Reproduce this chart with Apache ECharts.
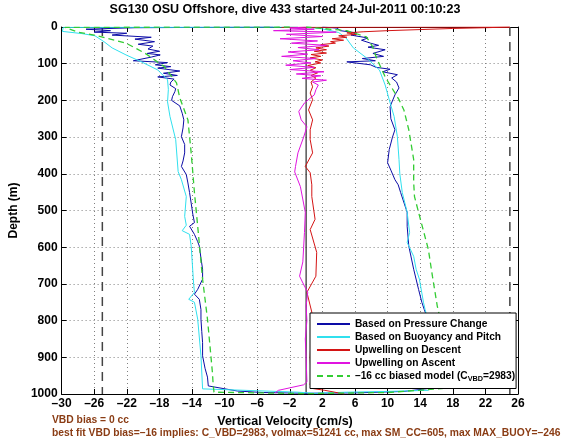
<!DOCTYPE html>
<html><head><meta charset="utf-8">
<script src="https://cdn.jsdelivr.net/npm/echarts@6/dist/echarts.min.js"></script>
<style>html,body{margin:0;padding:0;background:#fff}#c{width:570px;height:440px}</style>
</head><body><div id="c"></div>
<script>
// ---- text ----
const titleText = 'SG130 OSU Offshore, dive 433 started 24-Jul-2011 00:10:23';
const xName = 'Vertical Velocity (cm/s)';
const yName = 'Depth (m)';
const note1 = 'VBD bias = 0 cc';
const note2 = 'best fit VBD bias=\u201316 implies: C_VBD=2983, volmax=51241 cc, max SM_CC=605, max MAX_BUOY=\u2013246';
const seriesNames = ['Based on Pressure Change', 'Based on Buoyancy and Pitch', 'Upwelling on Descent', 'Upwelling on Ascent', '\u201316 cc biased model (C_VBD=2983)'];

// ---- axes ----
const xMin = -30, xMax = 26, xStep = 4;
const depthMin = 0, depthMax = 1000, depthStep = 100;

// ---- reference lines (velocity values) ----
const limitVelocities = [-25, 25];
const zeroVelocity = [0];

// ---- data: [vertical velocity cm/s, depth m] ----
const pressureChange = [
 [-4,0],[-21,2],[-27,6],[-24,10],[-26,14],[-22,17],[-23.8,22],[-19,28],[-21,33],[-18.6,40],[-20.6,47],[-18.8,52],[-19.4,60],[-18,66],[-19.5,72],[-17.9,76],[-19,82],[-21.2,92],[-17,97],[-18.5,103],[-16.6,108],[-18.2,112],[-15.5,120],[-17.5,126],[-15.8,132],[-18.2,136],[-16.2,142],[-16.6,150],[-16.7,158],[-16,168],[-16.1,176],[-16.4,190],[-16.5,200],[-15.5,215],[-15.2,235],[-15,253],[-15.1,275],[-15.3,299],[-14.9,320],[-14.9,343],[-15.1,365],[-15.3,380],[-14.7,402],[-14.5,425],[-14.3,451],[-14.1,480],[-13.9,510],[-13.7,533],[-14.3,543],[-13.7,565],[-13.3,585],[-13.1,597],[-12.9,630],[-12.7,660],[-12.7,687],[-13.3,715],[-13.7,728],[-13.1,742],[-12.9,770],[-12.9,796],[-12.8,830],[-12.7,860],[-12.7,896],[-12.4,930],[-12.1,954],[-12,978],[-8.4,992],[-5.2,996],[0,998],[6,997],[12,993],[15,985],[16,950],[15.8,900],[15.5,850],[15,800],[14.5,770],[14.2,750],[13.8,715],[13.2,660],[12.6,597],[12.4,543],[12.4,505],[11.6,451],[11.3,430],[10.9,416],[10.4,390],[10,370],[10.2,334],[10.6,300],[10.9,280],[10.4,250],[10.3,217],[10.9,185],[11.4,166],[11.1,150],[10.5,139],[11.2,130],[9.4,122],[10.3,115],[8.6,110],[7.9,103],[5,95],[8.5,92],[6.9,86],[9.5,80],[8.2,72],[9.7,62],[7.6,55],[8.9,50],[7.9,44],[6.8,36],[7.6,30],[5.5,22],[6.2,16],[4.2,10],[3.8,3],[2,0]
];
const buoyancyPitch = [
 [-1,0],[-29.8,1],[-29.9,12],[-27.5,18],[-25.9,24],[-24.8,40],[-23.8,57],[-22.1,76],[-20.2,95],[-18.2,117],[-17,144],[-16.9,170],[-17,204],[-16.7,244],[-16,307],[-15.7,394],[-15.3,416],[-14.7,462],[-14.9,516],[-14.7,540],[-15.2,555],[-14.3,565],[-14.1,597],[-13.8,700],[-13.7,723],[-14.4,742],[-13.7,750],[-13.3,796],[-12.9,896],[-12.7,986],[-1,995],[1,998],[5,995],[10,993],[15,990],[15.8,960],[15.6,900],[15.3,850],[15,800],[14.6,770],[14.4,750],[13.9,687],[13.5,660],[13.2,625],[12.4,587],[12.7,560],[12.4,505],[11.8,451],[11.5,400],[11.4,361],[11.2,299],[10.8,244],[10.2,198],[9.7,158],[9,117],[7.4,84],[5.8,57],[4.9,30],[4,15],[2,5],[0,0]
];
const upwellingDescent = [
 [-3,1],[25,0],[22,2],[18,4],[14,7],[10,10],[7,13],[5,16],[6.2,20],[4,24],[5,28],[3.2,32],[4.6,36],[3,40],[3.6,44],[1.8,48],[2.8,52],[1.2,57],[2.5,62],[1,66],[2.5,71],[0.6,75],[1.8,80],[0.5,84],[2,90],[1.1,95],[1.8,98],[0.2,105],[1.2,111],[0.5,118],[1.4,125],[0.6,132],[1.2,139],[0.6,150],[0.8,163],[0.5,180],[0.8,198],[0.3,226],[0.8,253],[0.5,280],[0.5,307],[0.8,343],[-0.1,380],[0.5,397],[0.7,430],[0.7,462],[1.1,524],[0.5,552],[1.3,614],[1.2,679],[0.1,723],[0.7,777],[0.6,850],[0.5,900],[0.6,954],[0.5,975],[0.8,985],[2.3,990],[4.7,1000]
];
const upwellingAscent = [
 [-3.8,997],[-3.4,990],[-0.3,975],[0.1,967],[0,900],[-0.1,850],[0.1,800],[0,760],[0.2,723],[-0.2,706],[-0.8,679],[-0.4,640],[-0.3,600],[-0.2,560],[-0.1,505],[-0.7,435],[-1.4,395],[-1.3,380],[-1.0,343],[-0.3,300],[0.1,272],[-0.6,253],[-0.9,230],[-0.2,207],[1.0,185],[1.2,171],[1.5,158],[0.8,150],[2.5,145],[-0.5,140],[1.8,133],[-1.2,128],[2.2,122],[-2,116],[1,110],[-2.5,104],[0.6,98],[-1.6,92],[1.2,86],[-3,80],[0.2,74],[-2.2,68],[1.6,62],[-1,56],[2.5,50],[-1.8,44],[1.4,38],[-3.2,32],[2,26],[-2.4,20],[3.7,14],[-4,10],[1,6],[-2,3],[0,0]
];
const biasedModel = [
 [-2,0],[-29.6,1],[-28,14],[-26,22],[-24.5,30],[-22.1,44],[-19.8,71],[-17.4,108],[-15.9,152],[-15.5,193],[-14.5,253],[-14.1,343],[-13.7,451],[-13.3,543],[-12.7,687],[-12.1,796],[-11.5,940],[-11.4,975],[-11.3,995],[0,999],[10,996],[17.3,984],[17.2,950],[17,900],[16.8,850],[16.5,800],[16.1,761],[15.5,679],[15,606],[13.8,505],[13.3,462],[13.2,424],[13.2,361],[12.6,280],[12,226],[11.4,198],[9.7,136],[8.6,82],[8.2,55],[7.4,27],[5,10],[0,0]
];

const colors = ['#0c0ca6', '#30e0ee', '#d41414', '#e014e0', '#33cc33'];
const FONT = '"Liberation Sans", Arial, Helvetica, sans-serif';
const dash = s => String(s).replace('-', '\u2013');

const chart = echarts.init(document.getElementById('c'), null, {renderer: 'canvas'});

function curve(name, data, color, dashed) {
  return {
    name, type: 'line', data, showSymbol: false, symbol: 'none', animation: false,
    xAxisIndex: 0, yAxisIndex: 0,
    lineStyle: {color, width: dashed ? 1.3 : 1, type: dashed ? [6, 4] : 'solid'},
    itemStyle: {color}, z: 3
  };
}
function vline(v, color, width, type) {
  return {
    type: 'line', data: [[v, depthMin], [v, depthMax]], showSymbol: false, symbol: 'none',
    silent: true, animation: false, legendHoverLink: false,
    lineStyle: {color, width, type}, z: 2
  };
}

const axisCommon = {
  min: xMin, max: xMax, interval: xStep, type: 'value',
  axisLine: {show: true, onZero: false, lineStyle: {color: '#000', width: 1}},
  axisTick: {show: true, inside: true, length: 5, lineStyle: {color: '#000'}},
};
const brown = {fontFamily: FONT, fontSize: 10.3, fontWeight: 'bold', color: '#8a3c14', lineHeight: 13};

const option = {
  animation: false,
  backgroundColor: '#fff',
  grid: {left: 52, right: 52, top: 27, bottom: 46, containLabel: false},
  title: [
    {text: titleText, left: 'center', top: 3, padding: 0, textStyle: {fontFamily: FONT, fontSize: 12.5, fontWeight: 'bold', color: '#000', lineHeight: 14}},
    {text: xName, left: 'center', top: 415, padding: 0, textStyle: {fontFamily: FONT, fontSize: 12.5, fontWeight: 'bold', color: '#000', lineHeight: 14}},
    {text: note1, left: 52, top: 414, padding: 0, textStyle: brown},
    {text: note2, left: 52, top: 427, padding: 0, textStyle: brown}
  ],
  legend: {
    orient: 'vertical', left: 310, top: 313, backgroundColor: '#fff', borderColor: '#000', borderWidth: 1, borderRadius: 0,
    padding: [6, 1, 6, 6], itemGap: 3, itemWidth: 33, itemHeight: 10, data: seriesNames,
    itemStyle: {opacity: 0},
    textStyle: {fontFamily: FONT, fontSize: 10.2, fontWeight: 'bold', color: '#000',
      rich: {t: {fontFamily: FONT, fontSize: 10.2, fontWeight: 'bold', lineHeight: 13, verticalAlign: 'middle'},
             s: {fontFamily: FONT, fontSize: 7.3, fontWeight: 'bold', lineHeight: 6, verticalAlign: 'bottom'}}},
    formatter: n => {
      if (n.indexOf('C_VBD') >= 0) { const p = n.split('C_VBD'); return '{t|' + p[0] + 'C}{s|VBD}{t|' + p[1] + '}'; }
      return '{t|' + n + '}';
    },
    selectedMode: false
  },
  xAxis: [
    Object.assign({}, axisCommon, {
      position: 'bottom',
      axisLabel: {fontFamily: FONT, fontSize: 12, fontWeight: 'bold', color: '#000', margin: 4, formatter: dash},
      splitLine: {show: true, lineStyle: {color: '#808080', width: 1, type: [1, 3]}}
    }),
    Object.assign({}, axisCommon, {position: 'top', axisLabel: {show: false}, splitLine: {show: false}})
  ],
  yAxis: [
    {type: 'value', inverse: true, min: depthMin, max: depthMax, interval: depthStep, position: 'left',
     name: yName, nameLocation: 'middle', nameGap: 31, nameRotate: 90,
     nameTextStyle: {fontFamily: FONT, fontSize: 12, fontWeight: 'bold', color: '#000'},
     axisLine: {show: true, onZero: false, lineStyle: {color: '#000'}},
     axisTick: {show: true, inside: true, length: 5, lineStyle: {color: '#000'}},
     axisLabel: {fontFamily: FONT, fontSize: 12, fontWeight: 'bold', color: '#000', margin: 4, formatter: v => String(v)},
     splitLine: {show: true, lineStyle: {color: '#808080', width: 1, type: [1, 3]}}},
    {type: 'value', inverse: true, min: depthMin, max: depthMax, interval: depthStep, position: 'right',
     axisLine: {show: true, onZero: false, lineStyle: {color: '#000'}},
     axisTick: {show: true, inside: true, length: 5, lineStyle: {color: '#000'}},
     axisLabel: {show: false}, splitLine: {show: false}}
  ],
  series: [
    ...limitVelocities.map(v => vline(v, '#444', 1.5, [9, 6])),
    ...zeroVelocity.map(v => vline(v, '#000', 1, 'solid')),
    curve(seriesNames[0], pressureChange, colors[0], false),
    curve(seriesNames[1], buoyancyPitch, colors[1], false),
    curve(seriesNames[2], upwellingDescent, colors[2], false),
    curve(seriesNames[3], upwellingAscent, colors[3], false),
    curve(seriesNames[4], biasedModel, colors[4], true)
  ]
};
chart.setOption(option);
</script>
</body></html>
